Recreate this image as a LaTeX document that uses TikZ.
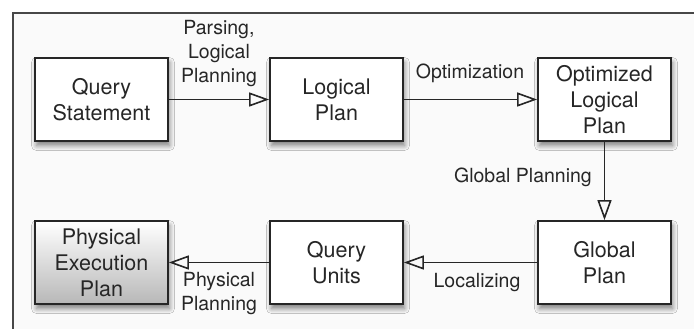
\documentclass[tikz,border=0pt]{standalone}
\usepackage{fontspec}
\setmainfont{TeX Gyre Heros}
\usetikzlibrary{arrows.meta,shadows.blur}
\definecolor{ink}{HTML}{262626}
\definecolor{bgc}{HTML}{FAFAFA}
\tikzset{
  stepbox/.style={draw=ink, line width=1.8pt, fill=white, minimum width=133pt, minimum height=83pt,
    align=center, text=ink, font=\fontsize{21.5}{26}\selectfont, inner sep=0pt,
    blur shadow={shadow xshift=1.5pt, shadow yshift=-4.5pt, shadow blur steps=8, shadow blur radius=5pt, shadow opacity=50}},
  flow/.style={draw=ink, line width=1.6pt, -{Triangle[open, length=20pt, width=14pt, line width=1.6pt]}},
  lab/.style={text=ink, align=center, font=\fontsize{19.5}{24}\selectfont, inner sep=0pt},
}
\begin{document}
\begin{tikzpicture}[x=1pt, y=-1pt]
\useasboundingbox (0,0) rectangle (694,329);
\fill[bgc] (13,13) rectangle (694,329);
\draw[line width=1.3pt, draw=ink!85] (13,329) -- (13,13) -- (694,13);
\node[stepbox] (qs) at (101.5,99.5) {Query\\Statement};
\node[stepbox] (lp) at (336.5,99.5) {Logical\\Plan};
\node[stepbox] (olp) at (604.5,99.5) {Optimized\\Logical\\Plan};
\node[stepbox, top color=white, bottom color=black!28] (pep) at (101.5,262.5) {Physical\\Execution\\Plan};
\node[stepbox] (qu) at (336.5,262.5) {Query\\Units};
\node[stepbox] (gp) at (604.5,262.5) {Global\\Plan};
\draw[flow] (qs) -- (lp);
\draw[flow] (lp) -- (olp);
\draw[flow] (olp) -- (gp);
\draw[flow] (gp) -- (qu);
\draw[flow] (qu) -- (pep);
\node[lab] (l1) at (219,54) {Parsing,\\Logical\\Planning};
\node[lab] (l2) at (470,73) {Optimization};
\node[lab, anchor=east] (l3) at (592,177) {Global Planning};
\node[lab] (l4) at (477,283) {Localizing};
\node[lab] (l5) at (219,294) {Physical\\Planning};
\end{tikzpicture}
\end{document}
